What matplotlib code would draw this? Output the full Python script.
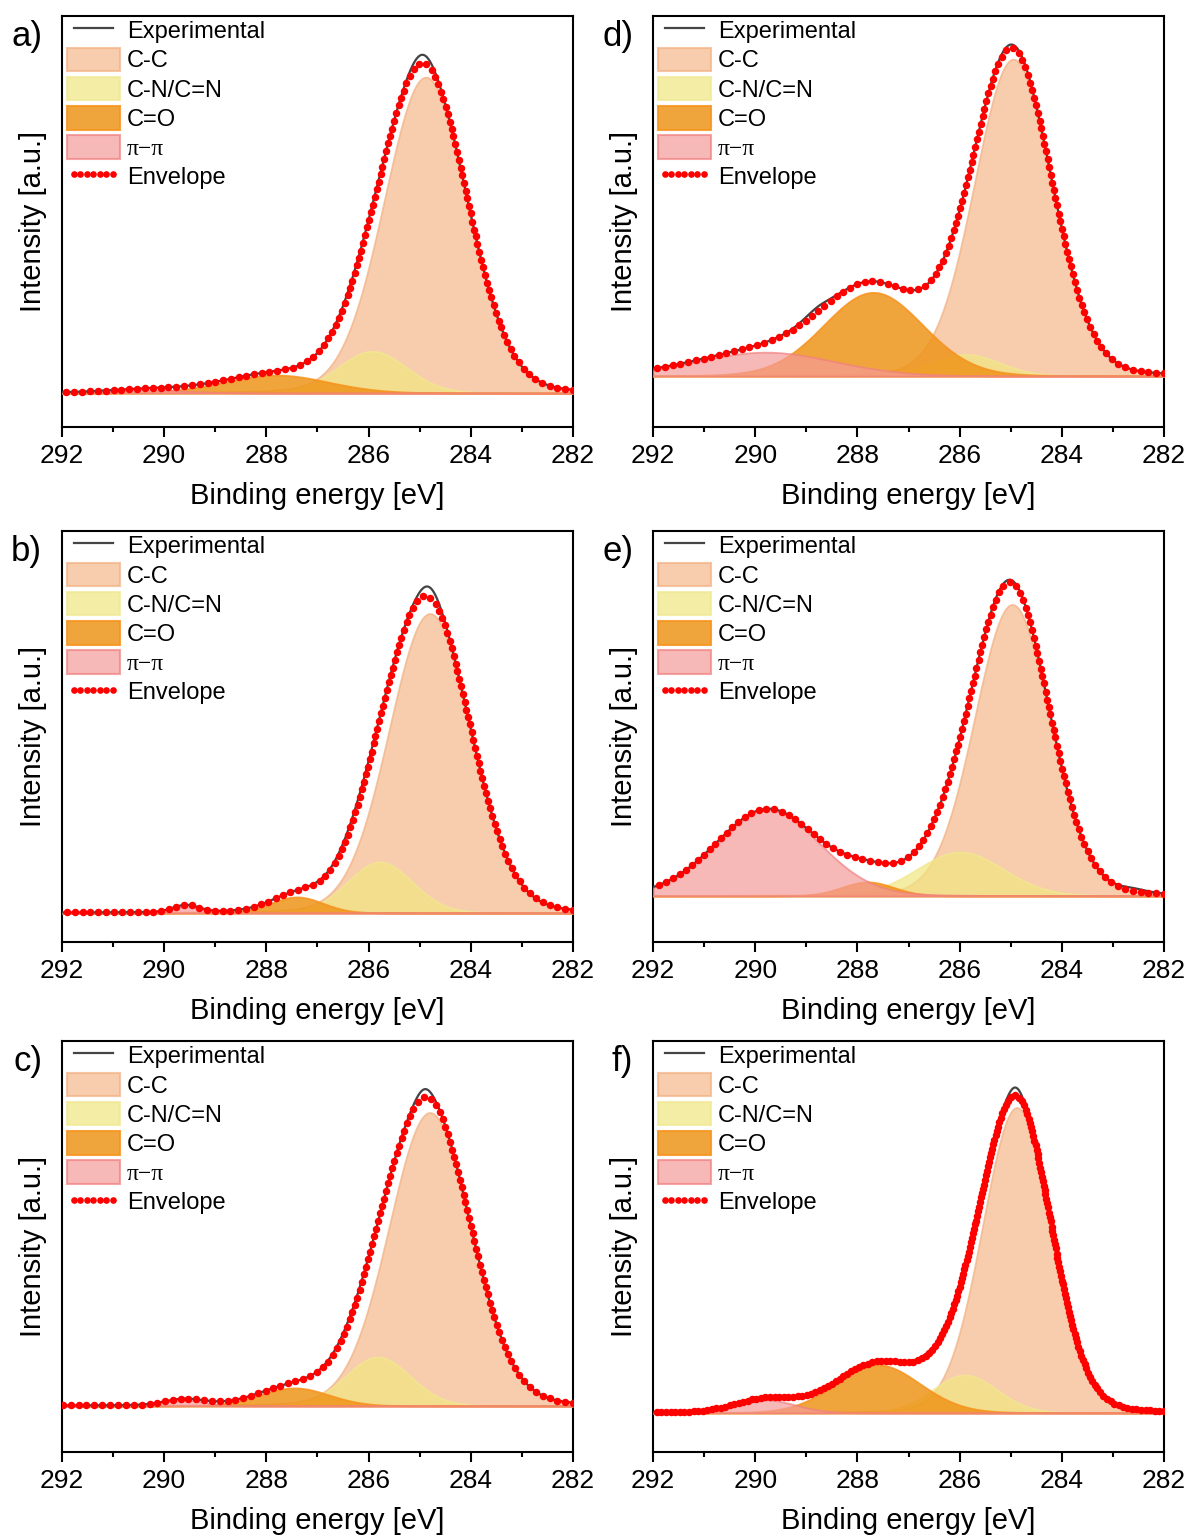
import matplotlib.pyplot as plt
import numpy as np
from matplotlib.lines import Line2D
from matplotlib.patches import Patch

plt.rcParams['font.family'] = ['Liberation Sans', 'DejaVu Sans']

panels = ['a)', 'b)', 'c)', 'd)', 'e)', 'f)']
components = ['C-C', 'C-N/C=N', 'C=O', 'π−π']

# fitted peaks, one row per panel (C-C, C-N/C=N, C=O, pi-pi)
centers = [
    [284.88, 285.93, 287.80, 290.30],
    [284.80, 285.78, 287.40, 289.57],
    [284.80, 285.82, 287.45, 289.60],
    [284.95, 285.89, 287.69, 289.80],
    [284.97, 285.99, 287.80, 289.75],
    [284.88, 285.90, 287.60, 289.80],
]
heights = [
    [317, 42, 18, 3],
    [299, 51, 16, 7],
    [293, 49, 18, 6],
    [318, 22, 84, 24],
    [291, 44, 14, 86],
    [305, 38, 48, 13],
]
fwhms = [
    [1.93, 1.60, 2.40, 1.80],
    [1.90, 1.50, 1.20, 0.60],
    [1.90, 1.50, 1.60, 0.90],
    [1.80, 1.60, 2.30, 3.20],
    [1.75, 2.00, 1.20, 2.40],
    [1.60, 1.50, 1.95, 1.40],
]
# where the measured curve sits above the envelope (position, excess, width)
exp_dev_center = [[284.95, 286.2], [284.80, 286.3], [284.90, 286.4],
                  [284.95, 288.8], [285.00, 282.6], [284.90, 286.6]]
exp_dev_height = [[8, 3], [10, 4], [8, 3], [3, 5], [2, 3], [8, 2]]
exp_dev_fwhm = [[0.5, 0.8], [0.5, 0.8], [0.4, 0.8], [0.6, 0.6], [0.6, 0.6], [0.35, 0.6]]

ylims = [(-34, 378), (-29, 381), (-46, 364), (-51, 361), (-46, 364), (-39, 371)]
env_every = [0.012, 0.012, 0.012, 0.012, 0.012, 0.007]

fill_colors = ['#F4B98C', '#F0E67F', '#EE951A', '#F59A9A']
edge_colors = ['#F2B080', '#F2E890', '#F7931E', '#F08080']
fill_alpha = [0.7, 0.7, 0.85, 0.7]
GL_MIX = 0.08


def peak(x, c, h, w):
    # pseudo-Voigt line shape
    g = np.exp(-4 * np.log(2) * ((x - c) / w) ** 2)
    l = 1 / (1 + 4 * ((x - c) / w) ** 2)
    return h * ((1 - GL_MIX) * g + GL_MIX * l)


fig = plt.figure(figsize=(11.89, 15.38), dpi=100)
lefts = [0.0521, 0.5492]
bottoms = [0.7224, 0.3875, 0.0559]
W, H = 0.4298, 0.2670

x = np.linspace(282, 292, 2001)

for i, lab in enumerate(panels):
    col, row = i // 3, i % 3
    ax = fig.add_axes([lefts[col], bottoms[row], W, H])

    parts = []
    for k in range(4):
        y = peak(x, centers[i][k], heights[i][k], fwhms[i][k])
        parts.append(y)
        ax.fill_between(x, 0, y, facecolor=fill_colors[k], alpha=fill_alpha[k],
                        edgecolor=edge_colors[k], linewidth=1.3, zorder=2 + k)

    env = np.sum(parts, axis=0)
    exp = env.copy()
    for c, h, w in zip(exp_dev_center[i], exp_dev_height[i], exp_dev_fwhm[i]):
        exp = exp + peak(x, c, h, w)
    ax.plot(x, exp, color='#444444', lw=1.6, zorder=8)
    ax.plot(x, env, ls='none', marker='o', ms=5.4, color='#FF0000',
            markeredgewidth=0, markevery=env_every[i], zorder=9)

    ax.set_xlim(292, 282)
    ax.set_ylim(*ylims[i])
    ax.set_xticks(np.arange(282, 293, 2))
    ax.set_xticks(np.arange(283, 292, 2), minor=True)
    ax.set_yticks([])
    ax.tick_params(axis='x', which='major', direction='out', length=7, width=1.5,
                   labelsize=19, pad=5)
    ax.tick_params(axis='x', which='minor', direction='out', length=3.5, width=1.5)
    for s in ax.spines.values():
        s.set_linewidth(1.5)
    ax.set_xlabel('Binding energy [eV]', fontsize=21, labelpad=10)
    ax.set_ylabel('Intensity [a.u.]', fontsize=21, labelpad=11)
    ax.text(-0.039, 0.99, lab, transform=ax.transAxes, ha='right', va='top',
            fontsize=25)

    handles = [Line2D([], [], color='#444444', lw=1.6)]
    for k in range(4):
        handles.append(Patch(facecolor=fill_colors[k], alpha=fill_alpha[k],
                             edgecolor=edge_colors[k], linewidth=1.5))
    handles.append(Line2D([], [], ls='none', marker='o', ms=4.8, color='#FF0000',
                          markeredgewidth=0))
    leg = ax.legend(handles, ['Experimental'] + components + ['Envelope'],
                    loc='upper left', bbox_to_anchor=(0, 1.006), frameon=False,
                    fontsize=17, numpoints=7, handlelength=2.25, handleheight=1.15,
                    handletextpad=0.3, labelspacing=0.19, borderaxespad=0.0,
                    borderpad=0.2)
    leg.get_texts()[4].set_family(['Liberation Serif', 'DejaVu Serif'])

fig.savefig('out.png', dpi=100)
